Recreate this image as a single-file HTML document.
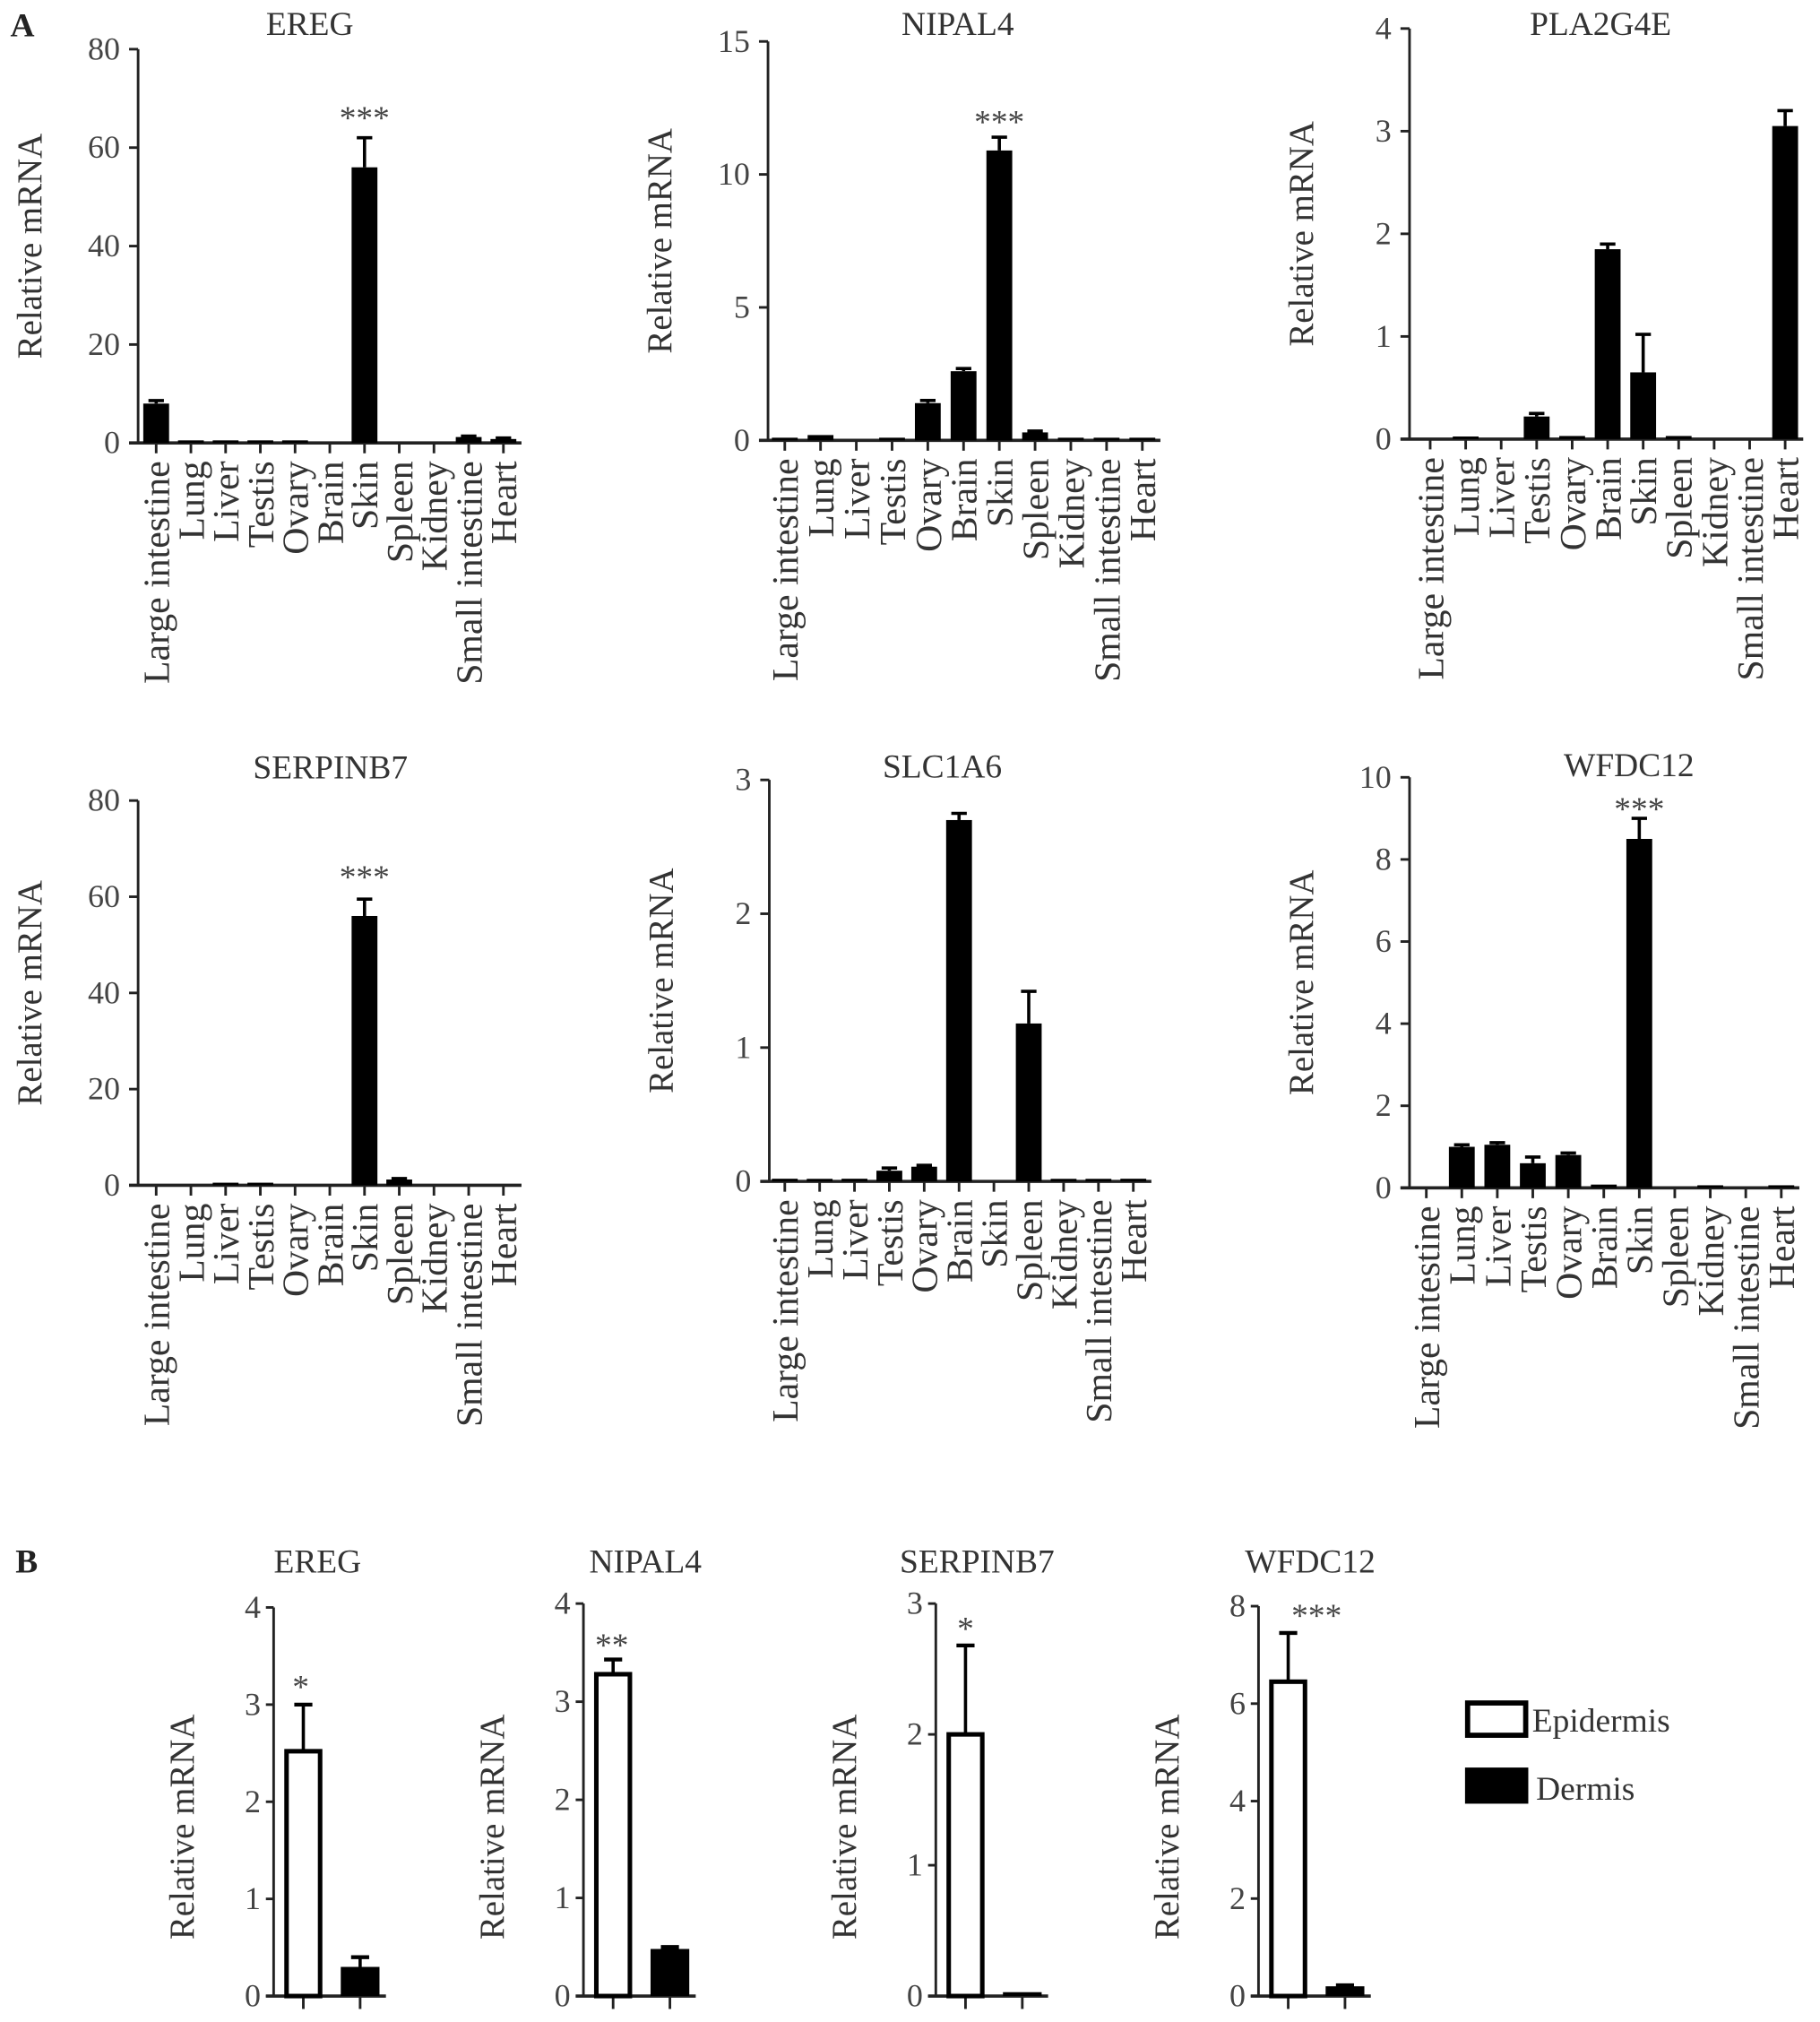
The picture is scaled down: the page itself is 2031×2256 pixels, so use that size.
<!DOCTYPE html>
<html><head><meta charset="utf-8"><style>
html,body{margin:0;padding:0;background:#fff;}
svg{display:block;font-family:"Liberation Serif",serif;}
</style></head><body>
<svg id="fig" width="2031" height="2256" viewBox="0 0 1410 1566" xmlns="http://www.w3.org/2000/svg">
<text x="8" y="28" font-size="26" font-weight="bold" fill="#222">A</text>
<text x="12" y="1218" font-size="26" font-weight="bold" fill="#222">B</text>
<g>
<rect x="1137" y="1319" width="45" height="25" fill="#fff" stroke="#000" stroke-width="4"/>
<text x="1187" y="1341" font-size="26" fill="#333">Epidermis</text>
<rect x="1135" y="1369" width="49" height="28" fill="#000"/>
<text x="1190" y="1394" font-size="26" fill="#333">Dermis</text>
</g>
</svg>
<script>
const tissues = ["Large intestine","Lung","Liver","Testis","Ovary","Brain","Skin","Spleen","Kidney","Small intestine","Heart"];
const eregVals = [8,0.2,0.5,0.3,0.5,0,56,0,0,1.2,0.8];
const eregErr = [8.6,0,0,0,0,0,62,0,0,1.4,1];
const nipalVals = [0.1,0.2,0,0.1,1.4,2.6,10.9,0.3,0.1,0.1,0.1];
const nipalErr = [0,0,0,0,1.5,2.7,11.4,0.35,0,0,0];
const plaVals = [0,0.02,0,0.22,0.03,1.85,0.65,0.03,0,0,3.05];
const plaErr = [0,0,0,0.25,0,1.9,1.02,0,0,0,3.2];
const serpVals = [0,0,0.2,0.3,0,0,56,1.2,0,0,0];
const serpErr = [0,0,0,0,0,0,59.5,1.4,0,0,0];
const slcVals = [0.02,0.01,0.02,0.08,0.11,2.7,0,1.18,0.01,0.01,0.02];
const slcErr = [0,0,0,0.1,0.12,2.75,0,1.42,0,0,0];
const wfdcVals = [0,1.0,1.05,0.6,0.8,0.08,8.5,0,0.02,0,0.05];
const wfdcErr = [0,1.05,1.1,0.75,0.85,0,9.0,0,0,0,0];
const groups = ["Epidermis","Dermis"];
const bEregVals = [2.52,0.3]; const bEregErr = [3.0,0.4];
const bNipalVals = [3.28,0.48]; const bNipalErr = [3.43,0.5];
const bSerpVals = [2.0,0.02]; const bSerpErr = [2.68,0];
const bWfdcVals = [6.45,0.2]; const bWfdcErr = [7.45,0.22];
const ticks80 = [0,20,40,60,80], ticks15=[0,5,10,15], ticks4=[0,1,2,3,4], ticks3=[0,1,2,3], ticks10=[0,2,4,6,8,10], ticks8=[0,2,4,6,8];

const NS="http://www.w3.org/2000/svg";
const svg=document.getElementById('fig');
function mk(tag,attrs,parent){const e=document.createElementNS(NS,tag);for(const k in attrs)e.setAttribute(k,attrs[k]);(parent||svg).appendChild(e);return e;}

function panelA(cfg){
  const g=mk('g',{});
  
  
  const max=cfg.ticks[cfg.ticks.length-1];
  const y=v=>cfg.y0-(v/max)*(cfg.y0-cfg.top);
  const step=(cfg.xLast-cfg.xFirst)/(tissues.length-1);
  const x=i=>cfg.xFirst+i*step;
  const t=mk('text',{x:cfg.tx,y:cfg.ty,'font-size':26,fill:'#333','text-anchor':'middle'},g);t.textContent=cfg.title;
  
  
  const yl=mk('text',{transform:`translate(${cfg.ax-75},${(cfg.top+cfg.y0)/2}) rotate(-90)`,'font-size':27,fill:'#333','text-anchor':'middle'},g);yl.textContent='Relative mRNA';
  
  
  const ya=mk('line',{x1:cfg.ax,y1:cfg.top,x2:cfg.ax,y2:cfg.y0,stroke:'#222','stroke-width':2},g);
  
  
  cfg.ticks.forEach(v=>{
    mk('line',{x1:cfg.ax-7,x2:cfg.ax,y1:y(v),y2:y(v),stroke:'#222','stroke-width':2},g);
    const tl=mk('text',{x:cfg.ax-14,y:y(v)+8,'font-size':25,fill:'#444','text-anchor':'end'},g);tl.textContent=v;
    
    
  });
  const xa=mk('line',{x1:cfg.ax-7,x2:x(tissues.length-1)+14,y1:cfg.y0,y2:cfg.y0,stroke:'#222','stroke-width':2.5},g);
  
  
  tissues.forEach((c,i)=>{
    const cx=x(i);
    mk('line',{x1:cx,x2:cx,y1:cfg.y0,y2:cfg.y0+8,stroke:'#222','stroke-width':2},g);
    const v=cfg.vals[i],e=cfg.err[i];
    if(e>v){mk('line',{x1:cx,x2:cx,y1:y(e),y2:y(v),stroke:'#000','stroke-width':2.5},g);mk('line',{x1:cx-6,x2:cx+6,y1:y(e),y2:y(e),stroke:'#000','stroke-width':2.5},g);}
    if(v>0){const b=mk('rect',{x:cx-10,y:Math.min(y(v),cfg.y0-2),width:20,height:Math.max(cfg.y0-y(v),2),fill:'#000'},g);
      
      }
    const lb=mk('text',{transform:`translate(${cx+10},${cfg.y0+14}) rotate(-90)`,'font-size':29,fill:'#333','text-anchor':'end'},g);lb.textContent=c;
    
    
  });
  if(cfg.star!=null){const s=mk('text',{x:x(cfg.star),y:cfg.starY,'font-size':26,fill:'#444','text-anchor':'middle'},g);s.textContent='***';
    
    }
}
panelA({name:'ereg',title:'EREG',tx:240,ty:27,ax:107,top:38,y0:343,ticks:ticks80,vals:eregVals,err:eregErr,xFirst:121,xLast:390,star:6,starY:100});
panelA({name:'nipal4',title:'NIPAL4',tx:742,ty:27,ax:595,top:32,y0:341,ticks:ticks15,vals:nipalVals,err:nipalErr,xFirst:608,xLast:885,star:6,starY:103});
panelA({name:'pla2g4e',title:'PLA2G4E',tx:1240,ty:27,ax:1092,top:22,y0:340,ticks:ticks4,vals:plaVals,err:plaErr,xFirst:1108,xLast:1383,star:null});
panelA({name:'serpinb7',title:'SERPINB7',tx:256,ty:603,ax:107,top:620,y0:918,ticks:ticks80,vals:serpVals,err:serpErr,xFirst:121,xLast:390,star:6,starY:688});
panelA({name:'slc1a6',title:'SLC1A6',tx:730,ty:602,ax:596,top:604,y0:915,ticks:ticks3,vals:slcVals,err:slcErr,xFirst:608,xLast:878,star:null});
panelA({name:'wfdc12',title:'WFDC12',tx:1262,ty:601,ax:1092,top:602,y0:920,ticks:ticks10,vals:wfdcVals,err:wfdcErr,xFirst:1105,xLast:1380,star:6,starY:635});

function panelB(cfg){
  const g=mk('g',{});
  
  
  const max=cfg.ticks[cfg.ticks.length-1];
  const y0=1546;
  const y=v=>y0-(v/max)*(y0-cfg.top);
  const t=mk('text',{x:cfg.tx,y:1218,'font-size':26,fill:'#333','text-anchor':'middle'},g);t.textContent=cfg.title;
  
  
  const yl=mk('text',{transform:`translate(${cfg.ax-62},${1415}) rotate(-90)`,'font-size':27,fill:'#333','text-anchor':'middle'},g);yl.textContent='Relative mRNA';
  
  
  mk('line',{x1:cfg.ax,y1:cfg.top,x2:cfg.ax,y2:y0,stroke:'#222','stroke-width':2},g);
  cfg.ticks.forEach(v=>{
    mk('line',{x1:cfg.ax-6,x2:cfg.ax,y1:y(v),y2:y(v),stroke:'#222','stroke-width':2},g);
    const tl=mk('text',{x:cfg.ax-10,y:y(v)+8,'font-size':25,fill:'#444','text-anchor':'end'},g);tl.textContent=v;
    
    
  });
  const xs=[cfg.ax+23,cfg.ax+67];
  mk('line',{x1:cfg.ax-6,x2:xs[1]+20,y1:y0,y2:y0,stroke:'#222','stroke-width':2.5},g);
  groups.forEach((gr,i)=>{
    const cx=xs[i],v=cfg.vals[i],e=cfg.err[i];
    mk('line',{x1:cx,x2:cx,y1:y0,y2:y0+10,stroke:'#222','stroke-width':2},g);
    if(e>v){mk('line',{x1:cx,x2:cx,y1:y(e),y2:y(v),stroke:'#000','stroke-width':2.5},g);mk('line',{x1:cx-7,x2:cx+7,y1:y(e),y2:y(e),stroke:'#000','stroke-width':3},g);}
    const b=mk('rect',i===0?{x:cx-13,y:y(v),width:26,height:y0-y(v),fill:'#fff',stroke:'#000','stroke-width':3.5}:{x:cx-15,y:Math.min(y(v),y0-3),width:30,height:Math.max(y0-y(v),3),fill:'#000'},g);
    
    
  });
  const s=mk('text',{x:cfg.sx,y:cfg.sy,'font-size':26,fill:'#444','text-anchor':'middle'},g);s.textContent=cfg.star;
  
  
}
panelB({name:'ereg',title:'EREG',tx:246,ax:212,top:1245,ticks:ticks4,vals:bEregVals,err:bEregErr,star:'*',sx:233,sy:1315});
panelB({name:'nipal4',title:'NIPAL4',tx:500,ax:452,top:1242,ticks:ticks4,vals:bNipalVals,err:bNipalErr,star:'**',sx:474,sy:1283});
panelB({name:'serpinb7',title:'SERPINB7',tx:757,ax:725,top:1242,ticks:ticks3,vals:bSerpVals,err:bSerpErr,star:'*',sx:748,sy:1270});
panelB({name:'wfdc12',title:'WFDC12',tx:1015,ax:975,top:1244,ticks:ticks8,vals:bWfdcVals,err:bWfdcErr,star:'***',sx:1020,sy:1260});
</script>
</body></html>
